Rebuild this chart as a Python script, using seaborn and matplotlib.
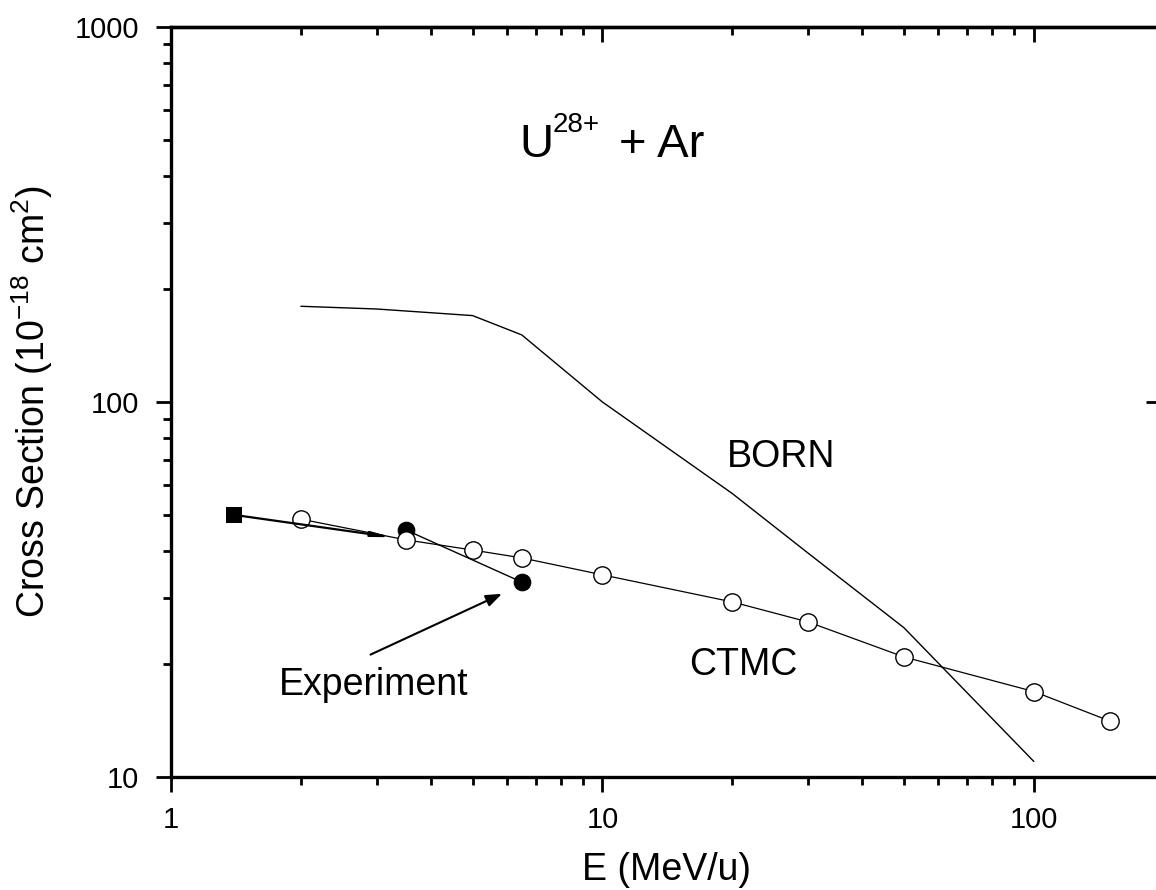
import matplotlib
matplotlib.use("Agg")
import matplotlib.pyplot as plt
import seaborn as sns
import pandas as pd
from matplotlib.ticker import LogLocator, NullFormatter, FixedFormatter, FixedLocator, NullLocator

# ---- data ----
born_e = [2, 3, 5, 6.5, 10, 20, 30, 50, 100]
born_cs = [180, 177, 170, 151, 100, 57, 39.5, 25, 11]

ctmc_e = [2, 3.5, 5, 6.5, 10, 20, 30, 50, 100, 150]
ctmc_cs = [48.7, 42.9, 40.3, 38.4, 34.6, 29.3, 25.9, 20.9, 16.9, 14.1]

exp_sq_e = [1.4]
exp_sq_cs = [50]
exp_circ_e = [3.5, 6.5]
exp_circ_cs = [45.6, 33.1]

x_ticks = [1, 10, 100]
x_ticklabels = ["1", "10", "100"]
y_ticks = [10, 100, 1000]
y_ticklabels = ["10", "100", "1000"]

sns.set_theme(style="ticks")
plt.rcParams['font.family'] = ['Liberation Sans', 'DejaVu Sans']
plt.rcParams['mathtext.fontset'] = 'custom'
plt.rcParams['mathtext.rm'] = 'Liberation Sans'
plt.rcParams['mathtext.it'] = 'Liberation Sans'
plt.rcParams['mathtext.default'] = 'regular'
for k in ['text.color', 'axes.labelcolor', 'xtick.color', 'ytick.color', 'axes.edgecolor']:
    plt.rcParams[k] = 'black'

W, H = 1156, 890
fig = plt.figure(figsize=(W / 100, H / 100), dpi=100)
left_px, right_px, top_px, bot_px = 171, 1161, 27, 777
ax = fig.add_axes([left_px / W, 1 - bot_px / H, (right_px - left_px) / W, (bot_px - top_px) / H])

ax.set_xscale('log')
ax.set_yscale('log')
ax.set_xlim(1, 10 ** ((right_px - 172) / 431))
ax.set_ylim(10, 1000)

df_born = pd.DataFrame({"E": born_e, "CS": born_cs})
df_ctmc = pd.DataFrame({"E": ctmc_e, "CS": ctmc_cs})
df_exc = pd.DataFrame({"E": exp_circ_e, "CS": exp_circ_cs})
df_exs = pd.DataFrame({"E": exp_sq_e, "CS": exp_sq_cs})

sns.lineplot(data=df_born, x="E", y="CS", ax=ax, color="black", lw=1.0, sort=False)
sns.lineplot(data=df_exc, x="E", y="CS", ax=ax, color="black", lw=1.0, sort=False,
             marker="o", markersize=12, markerfacecolor="black", markeredgecolor="black")
sns.lineplot(data=df_ctmc, x="E", y="CS", ax=ax, color="black", lw=0.9, sort=False,
             marker="o", markersize=12.5, markerfacecolor="white", markeredgecolor="black",
             markeredgewidth=1.0)
sns.scatterplot(data=df_exs, x="E", y="CS", ax=ax, color="black", marker="s", s=140,
                edgecolor="black", linewidth=0, zorder=5)

# arrow from square towards 3.5 MeV/u point
ax.annotate("", xy=(3.25, 43.6), xytext=(exp_sq_e[0], exp_sq_cs[0]),
            arrowprops=dict(arrowstyle="-|>,head_length=0.9,head_width=0.12", color="black",
                            lw=1.6, shrinkA=0, shrinkB=0))

# title text: U^28+ + Ar
ax.text(6.42, 450, "U", fontsize=34, ha="left", va="baseline")
ax.text(7.66, 525, "28+", fontsize=20, ha="left", va="baseline")
ax.text(10.95, 450, "+ Ar", fontsize=34, ha="left", va="baseline")

ax.text(19.4, 67.1, "BORN", fontsize=27, ha="left", va="baseline")
ax.text(15.9, 18.7, "CTMC", fontsize=27, ha="left", va="baseline")
ax.text(1.78, 16.5, "Experiment", fontsize=27, ha="left", va="baseline")
ax.annotate("", xy=(5.85, 30.8), xytext=(2.9, 21.2),
            arrowprops=dict(arrowstyle="-|>,head_length=0.8,head_width=0.3", color="black",
                            lw=1.5, shrinkA=0, shrinkB=0))

# axes styling
for s in ax.spines.values():
    s.set_linewidth(2.4)
    s.set_color("black")

ax.xaxis.set_major_locator(FixedLocator(x_ticks))
ax.xaxis.set_major_formatter(FixedFormatter(x_ticklabels))
ax.xaxis.set_minor_locator(LogLocator(base=10, subs=range(2, 10)))
ax.xaxis.set_minor_formatter(NullFormatter())
ax.yaxis.set_major_locator(FixedLocator(y_ticks))
ax.yaxis.set_major_formatter(FixedFormatter(y_ticklabels))
ax.yaxis.set_minor_locator(LogLocator(base=10, subs=range(2, 10)))
ax.yaxis.set_minor_formatter(NullFormatter())

ax.tick_params(which="major", direction="out", length=11, width=2.0, labelsize=21,
               colors="black", top=False, right=False)
ax.tick_params(axis="y", which="major", pad=12)
ax.tick_params(axis="x", which="major", pad=10)
ax.tick_params(which="minor", direction="out", length=6, width=2.0, top=False, right=False)

# top and right inward ticks
secx = ax.secondary_xaxis('top')
secx.xaxis.set_major_locator(FixedLocator(x_ticks))
secx.xaxis.set_minor_locator(LogLocator(base=10, subs=range(2, 10)))
secx.xaxis.set_major_formatter(NullFormatter())
secx.xaxis.set_minor_formatter(NullFormatter())
secx.tick_params(which="major", direction="in", length=11, width=2.0)
secx.tick_params(which="minor", direction="in", length=6, width=2.0)
secx.spines['top'].set_linewidth(2.4)

secy = ax.secondary_yaxis('right')
secy.yaxis.set_major_locator(FixedLocator(y_ticks))
secy.yaxis.set_minor_locator(NullLocator())
secy.yaxis.set_major_formatter(NullFormatter())
secy.tick_params(which="major", direction="in", length=11, width=2.0)

ax.set_xlabel("E (MeV/u)", fontsize=27, labelpad=13)
ax.set_ylabel(r"Cross Section (10$^{-18}$ cm$^{2}$)", fontsize=27, labelpad=14)

fig.savefig("out.png", dpi=100)
